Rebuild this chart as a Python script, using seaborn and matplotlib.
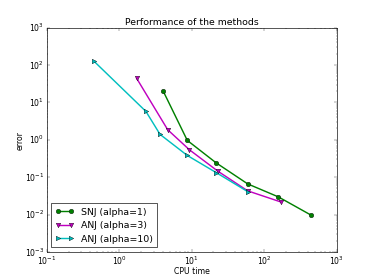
# Performance of the methods: error vs CPU time on log-log axes.
import numpy as np
import matplotlib
matplotlib.use("Agg")
import matplotlib.pyplot as plt
import seaborn as sns
import pandas as pd

snj_time = [4.06, 8.7, 21.7, 59.3, 157, 438]
snj_err = [19.7, 0.96, 0.242, 0.066, 0.0297, 0.0098]

anj3_time = [1.74, 4.67, 9.3, 22.9, 59.3, 169]
anj3_err = [43.9, 1.85, 0.54, 0.145, 0.043, 0.0218]

anj10_time = [0.45, 2.34, 3.66, 8.7, 21.7, 59.3]
anj10_err = [125, 5.7, 1.39, 0.38, 0.133, 0.041]

labels = ["SNJ (alpha=1)", "ANJ (alpha=3)", "ANJ (alpha=10)"]


def main():
    plt.style.use("classic")
    fig = plt.figure(figsize=(8, 6), dpi=46.75)
    ax = fig.add_subplot(111)

    series = [(snj_time, snj_err, "g", "o"),
              (anj3_time, anj3_err, "m", "v"),
              (anj10_time, anj10_err, "c", ">")]
    for (t, e, c, m), lab in zip(series, labels):
        df = pd.DataFrame({"time": t, "err": e})
        sns.lineplot(data=df, x="time", y="err", color=c, marker=m,
                     markersize=7, linewidth=2.2, label=lab, sort=False,
                     ax=ax, markeredgecolor="k", markeredgewidth=0.6)

    ax.set_xscale("log")
    ax.set_yscale("log")
    ax.set_xlim(0.1, 1000)
    ax.set_ylim(0.001, 1000)
    ax.set_xlabel("CPU time", labelpad=0)
    ax.set_ylabel("error", labelpad=0)
    ax.set_title("Performance of the methods")
    ax.legend(loc="lower left")

    fig.savefig("out.png", dpi=46.75)


if __name__ == "__main__":
    main()
